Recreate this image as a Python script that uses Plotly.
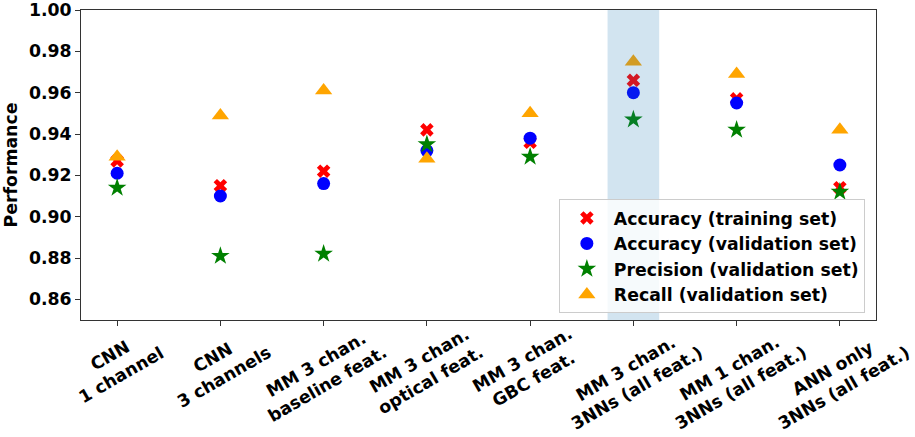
import plotly.graph_objects as go

categories = [
    "CNN<br>1 channel",
    "CNN<br>3 channels",
    "MM 3 chan.<br>baseline feat.",
    "MM 3 chan.<br>optical feat.",
    "MM 3 chan.<br>GBC feat.",
    "MM 3 chan.<br>3NNs (all feat.)",
    "MM 1 chan.<br>3NNs (all feat.)",
    "ANN only<br>3NNs (all feat.)",
]
acc_train = [0.927, 0.915, 0.922, 0.942, 0.936, 0.966, 0.957, 0.914]
acc_val = [0.921, 0.910, 0.916, 0.932, 0.938, 0.960, 0.955, 0.925]
precision_val = [0.914, 0.881, 0.882, 0.935, 0.929, 0.947, 0.942, 0.912]
recall_val = [0.929, 0.949, 0.961, 0.928, 0.950, 0.975, 0.969, 0.942]
y_ticks = [0.86, 0.88, 0.90, 0.92, 0.94, 0.96, 0.98, 1.00]
highlight_index = 5

FONT = "DejaVu Sans"
FS = 17.3
xs = list(range(len(categories)))

fig = go.Figure()
series = [
    ("Accuracy (training set)", acc_train, "x", "#ff0000", 12),
    ("Accuracy (validation set)", acc_val, "circle", "#0000ff", 13),
    ("Precision (validation set)", precision_val, "star", "#008000", 14),
    ("Recall (validation set)", recall_val, "triangle-up", "#ffa500", 15),
]
for i, (name, vals, sym, col, sz) in enumerate(series):
    fig.add_trace(go.Scatter(
        x=xs, y=vals, mode="markers", name=name,
        legendgroup=f"g{i}",
        marker=dict(symbol=sym, color=col, size=sz, line=dict(width=0)),
    ))

fig.add_shape(type="rect", xref="x", yref="paper",
              x0=highlight_index - 0.25, x1=highlight_index + 0.25, y0=0, y1=1,
              fillcolor="#1f77b4", opacity=0.2, line=dict(width=0), layer="above")

for i, lab in enumerate(categories):
    fig.add_annotation(x=i, y=0.0, xref="x", yref="paper", text=lab,
                       showarrow=False, textangle=-30, xanchor="center", yanchor="top",
                       align="center", xshift=-2,
                       font=dict(family=FONT, size=FS, color="black", weight="bold"))

fig.update_layout(
    width=915, height=437,
    margin=dict(l=81, r=39, t=10, b=117, autoexpand=False),
    plot_bgcolor="white", paper_bgcolor="white",
    font=dict(family=FONT, size=FS, color="black", weight="bold"),
    showlegend=True,
    legend=dict(x=0.986, y=0.022, xanchor="right", yanchor="bottom",
                bgcolor="rgba(255,255,255,0.8)", bordercolor="#cccccc", borderwidth=1,
                font=dict(family=FONT, size=FS, color="black", weight="bold"),
                tracegroupgap=0, itemwidth=44),
)
fig.update_xaxes(range=[-0.35, 7.35], tickvals=xs, showticklabels=False,
                 ticks="outside", ticklen=5, tickcolor="#333", automargin=False,
                 showline=True, linecolor="#333", linewidth=1, mirror=True,
                 showgrid=False, zeroline=False)
fig.update_yaxes(range=[0.85, 1.0], tickvals=y_ticks, tickformat=".2f",
                 ticks="outside", ticklen=5, tickcolor="#333", automargin=False,
                 showline=True, linecolor="#333", linewidth=1, mirror=True,
                 showgrid=False, zeroline=False,
                 tickfont=dict(family=FONT, size=FS, color="black", weight="bold"),
                 title=dict(text="Performance", standoff=6,
                            font=dict(family=FONT, size=FS, color="black", weight="bold")))

fig.write_html("out.html", config={"displayModeBar": False},
               post_script="document.body.style.margin='0';document.body.style.overflow='hidden';")
